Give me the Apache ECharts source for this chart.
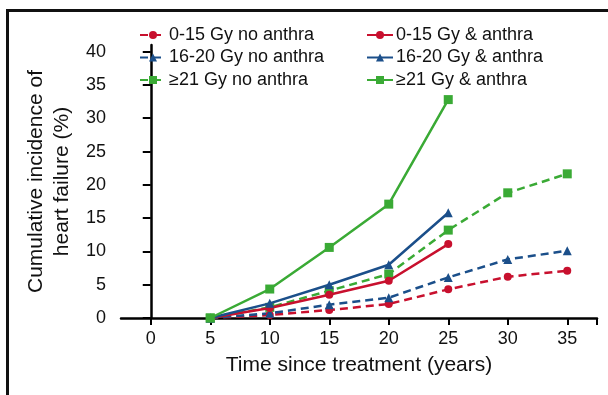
<!DOCTYPE html>
<html>
<head>
<meta charset="utf-8">
<script src="https://cdn.jsdelivr.net/npm/echarts@6/dist/echarts.min.js"></script>
<style>
  html, body { margin: 0; padding: 0; background: #fff; }
  #chart { width: 608px; height: 395px; }
</style>
</head>
<body>
<div id="chart"></div>
<script>
// years since treatment
const years = [5, 10, 15, 20, 25, 30, 35]

// cumulative incidence (%)
const low_no = [0, 0.45, 1.2, 2.1, 4.3, 6.2, 7.1]
const low_anthra = [0, 1.5, 3.5, 5.6, 11.1]
const mid_no = [0, 0.7, 2.0, 3.05, 6.1, 8.8, 10.1]
const mid_anthra = [0, 2.2, 5.0, 8.0, 15.8]
const high_no = [0, 1.6, 4.1, 6.6, 13.2, 18.8, 21.65]
const high_anthra = [0, 4.35, 10.6, 17.1, 32.8]

const xTicks = [0, 5, 10, 15, 20, 25, 30, 35]
const yTicks = [0, 5, 10, 15, 20, 25, 30, 35, 40]

const RED = '#c8102e'
const BLUE = '#1b4f8a'
const GREEN = '#3aaa35'

const pairs = vals => vals.map((v, i) => [years[i], v])

function line(name, vals, color, symbol, size, dashed) {
  return {
    name,
    type: 'line',
    data: pairs(vals),
    symbol,
    symbolSize: size,
    itemStyle: { color },
    lineStyle: { color, width: 2.5, type: dashed ? [8, 5] : 'solid' },
    z: dashed ? 2 : 3,
  }
}

const chart = echarts.init(document.getElementById('chart'))

const legendCommon = {
  orient: 'vertical',
  top: 21,
  itemWidth: 26,
  itemHeight: 10,
  itemGap: 4.5,
  textStyle: { fontFamily: 'Liberation Sans', fontSize: 18, color: '#111', padding: [0, 0, 0, -2] },
}

chart.setOption({
  animation: false,
  grid: { left: 121, right: 11, top: 45, bottom: 77 },
  legend: [
    { ...legendCommon, left: 134, data: ['0-15 Gy no anthra', '16-20 Gy no anthra', '≥21 Gy no anthra'] },
    { ...legendCommon, left: 361, data: ['0-15 Gy & anthra', '16-20 Gy & anthra', '≥21 Gy & anthra'] },
  ],
  xAxis: {
    type: 'value',
    min: -2.5,
    max: 37.5,
    name: 'Time since treatment (years)',
    nameLocation: 'middle',
    nameGap: 37,
    nameTextStyle: { fontFamily: 'Liberation Sans', fontSize: 21, color: '#111' },
    splitLine: { show: false },
    axisLine: { lineStyle: { color: '#000', width: 2.5 } },
    axisTick: { customValues: xTicks.concat([37.5]), length: 7, lineStyle: { color: '#000', width: 2 } },
    axisLabel: { customValues: xTicks, margin: 12, fontFamily: 'Liberation Sans', fontSize: 18, color: '#111' },
  },
  yAxis: {
    type: 'value',
    min: 0,
    max: 41,
    name: 'Cumulative incidence of\nheart failure (%)',
    nameLocation: 'middle',
    nameGap: 45,
    nameTextStyle: { fontFamily: 'Liberation Sans', fontSize: 21, lineHeight: 26, color: '#111' },
    splitLine: { show: false },
    axisLine: { show: true, lineStyle: { color: '#000', width: 2.5 } },
    axisTick: { show: true, customValues: yTicks, length: 8, lineStyle: { color: '#000', width: 2 } },
    axisLabel: { customValues: yTicks, margin: 15, fontFamily: 'Liberation Sans', fontSize: 18, color: '#111' },
  },
  graphic: [
    { type: 'rect', shape: { x: 6, y: 9, width: 3, height: 395 }, style: { fill: '#111' } },
    { type: 'rect', shape: { x: 6, y: 9, width: 602, height: 3 }, style: { fill: '#111' } },
  ],
  series: [
    line('0-15 Gy no anthra', low_no, RED, 'circle', 8, true),
    line('0-15 Gy & anthra', low_anthra, RED, 'circle', 8, false),
    line('16-20 Gy no anthra', mid_no, BLUE, 'triangle', 9, true),
    line('16-20 Gy & anthra', mid_anthra, BLUE, 'triangle', 9, false),
    line('≥21 Gy no anthra', high_no, GREEN, 'rect', 9, true),
    line('≥21 Gy & anthra', high_anthra, GREEN, 'rect', 9, false),
  ],
})
</script>
</body>
</html>
